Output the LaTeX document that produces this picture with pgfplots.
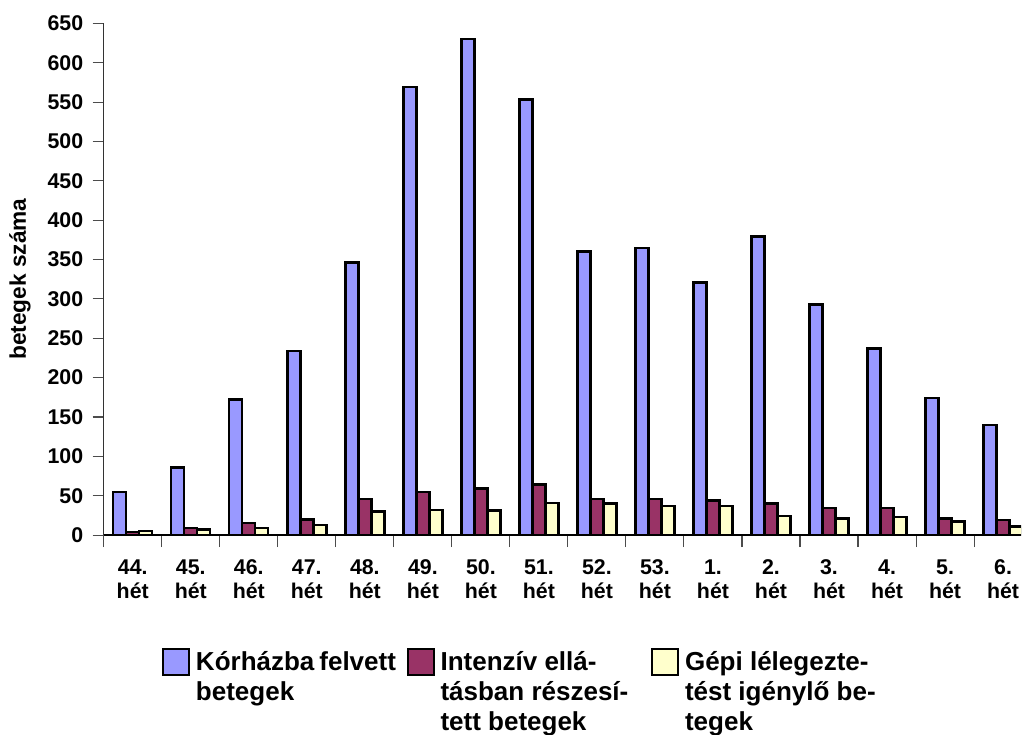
\documentclass[border=0pt]{standalone}
\usepackage{fontspec}
\setmainfont{Liberation Sans}
\usepackage{pgfplots}
\usepackage{pgfplotstable}
\pgfplotsset{compat=1.18}

\definecolor{kblue}{HTML}{9999FF}
\definecolor{kred}{HTML}{993366}
\definecolor{kyellow}{HTML}{FFFFCC}

% heti adatok: korhazba felvett, intenziv, gepi lelegeztetes
\pgfplotstableread{
x  korhaz intenziv gepi
0   55   4   5
1   86   9   7
2   172  15  9
3   234  20  13
4   346  46  30
5   569  55  32
6   630  59  31
7   553  64  41
8   360  46  40
9   365  46  37
10  321  44  37
11  379  40  24
12  293  34  21
13  237  34  23
14  174  21  17
15  140  19  11
}\hetek

\begin{document}
\begin{tikzpicture}
\useasboundingbox (-77.8pt,-149.25pt) rectangle (688.7pt,401.3pt);
\begin{axis}[
  at={(0,0)}, anchor=south west,
  scale only axis, width=688pt, height=383.8pt,
  ybar=0pt, bar width=9.75pt,
  xmin=-0.5, xmax=15.31, ymin=0, ymax=650,
  axis x line=bottom, axis y line=left,
  x axis line style={-, line width=1.1pt, black},
  y axis line style={-, line width=1.1pt, black!80},
  tick align=outside,
  major tick length=8.25pt,
  minor tick length=9pt,
  ytick={0,50,...,650},
  ytick style={line width=0.8pt, black!70},
  xtick={0,...,15},
  xticklabels={{44.\\hét},{45.\\hét},{46.\\hét},{47.\\hét},{48.\\hét},
    {49.\\hét},{50.\\hét},{51.\\hét},{52.\\hét},{53.\\hét},{1.\\hét},
    {2.\\hét},{3.\\hét},{4.\\hét},{5.\\hét},{6.\\hét}},
  major x tick style={draw=none},
  minor xtick={-0.5,0.5,...,15.5},
  minor x tick style={line width=0.8pt, black!70},
  /pgf/number format/assume math mode=true,
  yticklabel style={font=\bfseries\fontsize{16}{19}\selectfont,
    anchor=east, inner sep=0pt, xshift=-7pt},
  xticklabel style={font=\bfseries\fontsize{16}{18}\selectfont,
    align=center, anchor=north, inner sep=0pt, yshift=-10pt},
  ylabel={betegek száma},
  ylabel style={at={(axis description cs:0,0.5)}, anchor=center,
    yshift=62.8pt, font=\bfseries\fontsize{17}{20}\selectfont},
  legend columns=3,
  legend style={at={(axis description cs:0,0)}, anchor=north west,
    xshift=43.7pt, yshift=-84.75pt,
    draw=none, fill=none, inner sep=0pt, outer sep=0pt,
    font=\bfseries\fontsize{19.5}{22.5}\selectfont,
    nodes={inner sep=0pt, outer sep=0pt},
    cells={anchor=north west},
    /tikz/every odd column/.append style={column sep=4.3pt},
    /tikz/every even column/.append style={column sep=7.9pt}},
  legend image code/.code={%
    \draw[#1, line width=1.7pt] (0pt,-19.5pt) rectangle (19.5pt,0pt);},
]
\addplot[fill=kblue, draw=black, line width=1.8pt] table[x=x, y=korhaz] {\hetek};
\addlegendentry{\parbox[t]{150pt}{\rule{0pt}{15.75pt}Kórházba felvett\\betegek}}
\addplot[fill=kred, draw=black, line width=1.8pt] table[x=x, y=intenziv] {\hetek};
\addlegendentry{\parbox[t]{150pt}{\rule{0pt}{15.75pt}Intenzív ellá-\\tásban részesí-\\tett betegek}}
\addplot[fill=kyellow, draw=black, line width=1.8pt] table[x=x, y=gepi] {\hetek};
\addlegendentry{\parbox[t]{150pt}{\rule{0pt}{15.75pt}Gépi lélegezte-\\tést igénylő be-\\tegek}}
\end{axis}
\end{tikzpicture}
\end{document}
